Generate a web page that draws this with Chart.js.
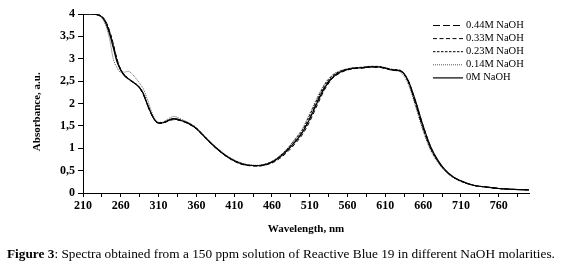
<!DOCTYPE html>
<html>
<head>
<meta charset="utf-8">
<script src="https://cdn.jsdelivr.net/npm/chart.js@4/dist/chart.umd.min.js"></script>
<style>
  body { margin: 0; background: #fff; }
  #wrap { position: relative; width: 566px; height: 266px; }
  #caption { position: absolute; left: 7px; top: 246px; font: 13.3px 'Liberation Serif', 'Times New Roman', serif; color: #000; white-space: nowrap; }
</style>
</head>
<body>
<div id="wrap">
  <canvas id="spectraChart" width="566" height="266"></canvas>
  <div id="caption"><b>Figure 3</b>: Spectra obtained from a 150 ppm solution of Reactive Blue 19 in different NaOH molarities.</div>
</div>
<script>
// wavelengths (nm)
const wavelengths = [210, 220, 230, 235, 240, 245, 250, 255, 260, 265, 270, 275, 280, 285, 290, 295, 300, 305, 310, 315, 320, 325, 330, 335, 340,
  350, 360, 370, 380, 390, 400, 410, 420, 430, 440, 450, 460, 470, 480, 490, 500, 510, 520, 530, 540, 550, 560, 570, 580, 590, 600,
  610, 620, 630, 640, 650, 660, 670, 680, 690, 700, 710, 720, 730, 740, 750, 760, 770, 780, 790, 800];

// absorbance per NaOH molarity
const abs044 = [4.0, 4.0, 3.98, 3.94, 3.82, 3.6, 3.3, 2.96, 2.75, 2.63, 2.55, 2.49, 2.43, 2.34, 2.19, 1.97, 1.77, 1.62, 1.56, 1.56, 1.59, 1.63, 1.65, 1.64, 1.62,
  1.55, 1.44, 1.27, 1.1, 0.95, 0.82, 0.72, 0.65, 0.62, 0.61, 0.63, 0.69, 0.8, 0.95, 1.14, 1.36, 1.68, 2.05, 2.38, 2.6, 2.7, 2.76, 2.79, 2.8, 2.82, 2.82,
  2.79, 2.75, 2.73, 2.5, 2.0, 1.45, 1.0, 0.7, 0.49, 0.35, 0.27, 0.2, 0.16, 0.14, 0.12, 0.1, 0.09, 0.08, 0.075, 0.07];
const abs033 = [4.0, 4.0, 3.98, 3.95, 3.84, 3.63, 3.34, 2.99, 2.76, 2.63, 2.55, 2.49, 2.43, 2.35, 2.2, 1.98, 1.78, 1.63, 1.56, 1.56, 1.59, 1.62, 1.64, 1.63, 1.61,
  1.54, 1.43, 1.26, 1.09, 0.94, 0.81, 0.71, 0.64, 0.61, 0.6, 0.62, 0.67, 0.77, 0.91, 1.09, 1.3, 1.6, 1.97, 2.32, 2.56, 2.68, 2.75, 2.78, 2.79, 2.81, 2.81,
  2.78, 2.74, 2.72, 2.52, 2.04, 1.5, 1.03, 0.71, 0.5, 0.36, 0.27, 0.2, 0.16, 0.14, 0.12, 0.1, 0.09, 0.08, 0.075, 0.07];
const abs023 = [4.0, 4.0, 3.98, 3.94, 3.83, 3.62, 3.32, 2.98, 2.76, 2.64, 2.56, 2.5, 2.44, 2.36, 2.22, 2.0, 1.79, 1.63, 1.57, 1.57, 1.6, 1.64, 1.66, 1.65, 1.62,
  1.56, 1.45, 1.28, 1.11, 0.96, 0.83, 0.73, 0.66, 0.62, 0.61, 0.64, 0.7, 0.82, 0.98, 1.18, 1.4, 1.74, 2.1, 2.42, 2.62, 2.72, 2.77, 2.8, 2.81, 2.83, 2.83,
  2.8, 2.76, 2.74, 2.49, 1.98, 1.43, 0.98, 0.69, 0.48, 0.35, 0.26, 0.2, 0.16, 0.14, 0.12, 0.1, 0.09, 0.08, 0.075, 0.07];
const abs014 = [4.0, 4.0, 3.97, 3.91, 3.75, 3.45, 3.0, 2.8, 2.7, 2.7, 2.72, 2.66, 2.56, 2.45, 2.32, 2.1, 1.85, 1.66, 1.58, 1.58, 1.63, 1.68, 1.71, 1.69, 1.65,
  1.57, 1.46, 1.29, 1.12, 0.97, 0.84, 0.74, 0.67, 0.63, 0.62, 0.64, 0.71, 0.83, 0.99, 1.2, 1.43, 1.78, 2.14, 2.45, 2.64, 2.73, 2.78, 2.8, 2.81, 2.83, 2.82,
  2.79, 2.74, 2.7, 2.44, 1.93, 1.38, 0.95, 0.67, 0.47, 0.34, 0.26, 0.2, 0.16, 0.14, 0.12, 0.1, 0.09, 0.08, 0.075, 0.07];
const abs000 = [4.0, 4.0, 3.98, 3.93, 3.8, 3.56, 3.25, 2.93, 2.74, 2.62, 2.55, 2.49, 2.43, 2.35, 2.21, 1.99, 1.79, 1.63, 1.57, 1.57, 1.6, 1.64, 1.66, 1.65, 1.62,
  1.55, 1.44, 1.27, 1.1, 0.95, 0.82, 0.72, 0.65, 0.62, 0.61, 0.63, 0.69, 0.8, 0.95, 1.13, 1.35, 1.66, 2.03, 2.36, 2.58, 2.7, 2.76, 2.79, 2.8, 2.82, 2.82,
  2.79, 2.75, 2.73, 2.52, 2.05, 1.5, 1.03, 0.72, 0.5, 0.36, 0.27, 0.21, 0.16, 0.14, 0.12, 0.1, 0.09, 0.08, 0.075, 0.07];

const seriesLabels = ['0.44M NaOH', '0.33M NaOH', '0.23M NaOH', '0.14M NaOH', '0M NaOH'];
const seriesValues = [abs044, abs033, abs023, abs014, abs000];
const seriesDash = [[7, 3], [4, 2.5], [2.5, 1.5], [1, 1], []];
const seriesColor = ['#000', '#000', '#000', '#555', '#000'];

// axis ticks
const xTickValues = [210, 235, 260, 285, 310, 335, 360, 385, 410, 435, 460, 485, 510, 535, 560, 585, 610, 635, 660, 685, 710, 735, 760, 785];
const xLabelValues = [210, 260, 310, 360, 410, 460, 510, 560, 610, 660, 710, 760];

const serif = "'Liberation Serif', 'Times New Roman', serif";

const datasets = seriesLabels.map((lbl, i) => ({
  label: lbl,
  data: wavelengths.map((w, j) => ({ x: w, y: seriesValues[i][j] })),
  borderColor: seriesColor[i],
  backgroundColor: 'transparent',
  borderWidth: i === 4 ? 1.2 : 1,
  borderDash: seriesDash[i],
  pointRadius: 0,
  cubicInterpolationMode: 'monotone',
  fill: false
}));

// legend drawn inside plot, top right
const insideLegend = {
  id: 'insideLegend',
  afterDraw(chart) {
    const ctx = chart.ctx;
    ctx.save();
    ctx.font = '10.5px ' + serif;
    ctx.textBaseline = 'middle';
    ctx.fillStyle = '#000';
    chart.data.datasets.forEach((ds, i) => {
      const y = 25 + i * 13.1;
      ctx.beginPath();
      ctx.setLineDash(ds.borderDash);
      ctx.strokeStyle = ds.borderColor;
      ctx.lineWidth = ds.borderWidth;
      ctx.moveTo(433, y + 0.5);
      ctx.lineTo(463, y + 0.5);
      ctx.stroke();
      ctx.setLineDash([]);
      ctx.fillText(ds.label, 466, y);
    });
    ctx.restore();
  }
};

const ctx = document.getElementById('spectraChart').getContext('2d');
new Chart(ctx, {
  type: 'line',
  data: { datasets: datasets },
  options: {
    responsive: false,
    animation: false,
    layout: { padding: { left: 31, top: 14, right: 37, bottom: 30 } },
    plugins: {
      legend: { display: false },
      tooltip: { enabled: false }
    },
    scales: {
      x: {
        type: 'linear',
        min: 210,
        max: 800,
        afterBuildTicks: (scale) => { scale.ticks = xTickValues.map(v => ({ value: v })); },
        afterFit: (scale) => { scale.height = 43; },
        ticks: {
          autoSkip: false,
          maxRotation: 0,
          padding: 2,
          color: '#000',
          font: { family: serif, size: 12, weight: 'bold' },
          callback: (v) => xLabelValues.includes(v) ? String(v) : ''
        },
        grid: { drawOnChartArea: false, tickLength: 4, color: '#000' },
        border: { color: '#000', width: 1 },
        title: {
          display: true,
          text: 'Wavelength, nm',
          color: '#000',
          padding: 0,
          font: { family: serif, size: 11, weight: 'bold' }
        }
      },
      y: {
        min: 0,
        max: 4,
        afterFit: (scale) => { scale.width = 52; },
        ticks: {
          stepSize: 0.5,
          padding: 3,
          color: '#000',
          font: { family: serif, size: 12, weight: 'bold' },
          callback: (v) => String(v).replace('.', ',')
        },
        grid: { drawOnChartArea: false, tickLength: 5, color: '#000' },
        border: { color: '#000', width: 1 },
        title: {
          display: true,
          text: 'Absorbance, a.u.\u00a0\u00a0\u00a0\u00a0\u00a0\u00a0',
          color: '#000',
          padding: 0,
          font: { family: serif, size: 11, weight: 'bold' }
        }
      }
    }
  },
  plugins: [insideLegend]
});
</script>
</body>
</html>
